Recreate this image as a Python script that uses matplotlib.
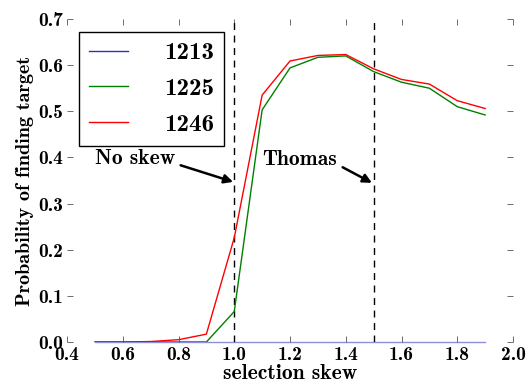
import matplotlib
matplotlib.use("Agg")
import matplotlib.pyplot as plt

skew = [0.5, 0.6, 0.7, 0.8, 0.9, 1.0, 1.1, 1.2, 1.3, 1.4, 1.5, 1.6, 1.7, 1.8, 1.9]
p1213 = [0.0] * 15
p1225 = [0.0, 0.0, 0.0, 0.0, 0.0, 0.066, 0.503, 0.594, 0.617, 0.620, 0.586, 0.563, 0.550, 0.510, 0.492]
p1246 = [0.0, 0.0, 0.001, 0.005, 0.017, 0.226, 0.535, 0.609, 0.621, 0.623, 0.592, 0.569, 0.559, 0.523, 0.506]
labels = ["1213", "1225", "1246"]
colors = ["#3030c0", "#008000", "#ff0000"]
vlines = [1.0, 1.5]
notes = [("No skew", (0.644, 0.397), (0.996, 0.347)),
         ("Thomas", (1.236, 0.395), (1.494, 0.345))]

plt.rcParams['font.family'] = ['cmb10', 'DejaVu Serif']
plt.rcParams['axes.unicode_minus'] = False
plt.rcParams['mathtext.fontset'] = 'cm'

fig = plt.figure(figsize=(5.29, 3.89), dpi=100)
ax = fig.add_axes([67/529, 1-342/389, 446/529, 323/389])

for i, (ys, lab, c) in enumerate(zip([p1213, p1225, p1246], labels, colors)):
    line, = ax.plot(skew, ys, color=c, lw=1.0, label=lab, zorder=2 + i)
    if i == 0:
        line.set_clip_on(False)
        line.set_alpha(0.55)

for v in vlines:
    ax.axvline(v, color='black', lw=1.0, ls=(0, (5, 4)))

for txt, tpos, tip in notes:
    ax.annotate(txt, xy=tip, xytext=tpos, ha='center', va='center', fontsize=15.5,
                arrowprops=dict(arrowstyle='-|>', color='black', lw=1.8,
                                mutation_scale=13, relpos=(1.0, 0.25),
                                shrinkA=2, shrinkB=0))

ax.set_xlim(0.4, 2.0)
ax.set_ylim(0.0, 0.7)
ax.set_xticks([0.4, 0.6, 0.8, 1.0, 1.2, 1.4, 1.6, 1.8, 2.0])
ax.set_yticks([0.0, 0.1, 0.2, 0.3, 0.4, 0.5, 0.6, 0.7])
ax.set_xticklabels(["0.4", "0.6", "0.8", "1.0", "1.2", "1.4", "1.6", "1.8", "2.0"])
ax.set_yticklabels(["0.0", "0.1", "0.2", "0.3", "0.4", "0.5", "0.6", "0.7"])
for s in ax.spines.values():
    s.set_visible(False)
ax.tick_params(direction='in', length=4, width=0.6, colors='#555555', labelcolor='black',
               top=True, right=True, labelsize=14, pad=3)

ax.set_xlabel("selection skew", fontsize=15.5, labelpad=0)
ax.set_ylabel("Probability of finding target", fontsize=14.5, labelpad=3)

leg = ax.legend(loc='upper left', bbox_to_anchor=(0.027, 0.96), fontsize=18,
                frameon=True, fancybox=False, framealpha=1, edgecolor='black',
                handlelength=1.55, handletextpad=1.45, labelspacing=0.53,
                borderpad=0.4, borderaxespad=0)
leg.get_frame().set_linewidth(1.0)
for h in leg.get_lines():
    h.set_alpha(1.0)

fig.savefig("out.png", dpi=100)
